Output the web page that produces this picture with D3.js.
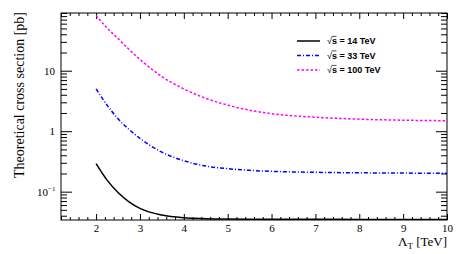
<!DOCTYPE html>
<html>
<head>
<meta charset="utf-8">
<script src="https://cdn.jsdelivr.net/npm/d3@7"></script>
<style>
  body { margin: 0; background: #fff; }
  svg { display: block; }
  .tick text { font-family: "Liberation Serif", "Times New Roman", serif; font-size: 11px; fill: #000; }
</style>
</head>
<body>
<script>
// values
var lambdaT = [2, 2.25, 2.5, 2.75, 3, 3.5, 4, 4.5, 5, 5.5, 6, 7, 8, 9, 10];
var xs14  = [0.29, 0.155, 0.097, 0.068, 0.053, 0.041, 0.037, 0.0358, 0.0353, 0.0351, 0.035, 0.0349, 0.0348, 0.0348, 0.0348];
var xs33  = [5.0, 2.7, 1.6, 1.07, 0.76, 0.45, 0.325, 0.265, 0.24, 0.225, 0.217, 0.209, 0.205, 0.203, 0.201];
var xs100 = [82, 51, 34, 22.5, 15.4, 8.0, 5.0, 3.5, 2.7, 2.22, 1.95, 1.7, 1.58, 1.52, 1.49];

var seriesNames = ["14", "33", "100"];
var xTicks = [2, 3, 4, 5, 6, 7, 8, 9, 10];
var yTicks = [0.1, 1, 10];
var yTickLabels = [["10", "\u22121"], ["1", null], ["10", null]];

var width = 473, height = 254;
var pLeft = 61, pRight = 447, pTop = 13, pBottom = 220;

var svg = d3.select("body").append("svg")
    .attr("width", width)
    .attr("height", height);

var x = d3.scaleLinear().domain([1.2, 10]).range([pLeft, pRight]);
var y = d3.scaleLog().domain([0.034, 90]).range([pBottom, pTop]);

// minor ticks
var xMinor = d3.range(1.2, 10.001, 0.2).map(function(d) { return +d.toFixed(1); })
    .filter(function(d) { return Math.abs(d - Math.round(d)) > 0.01; });
var yMinor = [];
[0.01, 0.1, 1, 10].forEach(function(dec) {
    for (var k = 2; k <= 9; k++) {
        var v = dec * k;
        if (v >= 0.034 && v <= 90) yMinor.push(v);
    }
});

function addAxis(axis, transform) {
    var g = svg.append("g").attr("transform", transform).call(axis);
    g.select(".domain").remove();
    g.selectAll(".tick line").attr("stroke", "#000").attr("stroke-width", 1);
    return g;
}

// x axes
addAxis(d3.axisBottom(x).tickValues(xTicks).tickSize(-6).tickPadding(4).tickFormat(d3.format("d")),
    "translate(0," + pBottom + ")");
addAxis(d3.axisBottom(x).tickValues(xMinor).tickSize(-3).tickFormat(""),
    "translate(0," + pBottom + ")");
addAxis(d3.axisTop(x).tickValues(xTicks).tickSize(-6).tickFormat(""),
    "translate(0," + pTop + ")");
addAxis(d3.axisTop(x).tickValues(xMinor).tickSize(-3).tickFormat(""),
    "translate(0," + pTop + ")");

// y axes
addAxis(d3.axisLeft(y).tickValues(yTicks).tickSize(-11).tickFormat(""),
    "translate(" + pLeft + ",0)");
addAxis(d3.axisLeft(y).tickValues(yMinor).tickSize(-6).tickFormat(""),
    "translate(" + pLeft + ",0)");
addAxis(d3.axisRight(y).tickValues(yTicks).tickSize(-11).tickFormat(""),
    "translate(" + pRight + ",0)");
addAxis(d3.axisRight(y).tickValues(yMinor).tickSize(-6).tickFormat(""),
    "translate(" + pRight + ",0)");

// y tick labels (with superscript)
yTicks.forEach(function(v, i) {
    var lab = yTickLabels[i];
    svg.append("text")
        .attr("x", lab[1] ? 48 : 55)
        .attr("y", y(v) + 4)
        .attr("text-anchor", "end")
        .style("font-family", "'Liberation Serif', 'Times New Roman', serif")
        .style("font-size", "11px")
        .text(lab[0]);
    if (lab[1]) {
        svg.append("text")
            .attr("x", 48)
            .attr("y", y(v) - 1)
            .style("font-family", "'Liberation Serif', 'Times New Roman', serif")
            .style("font-size", "7px")
            .text(lab[1]);
    }
});

// frame
svg.append("rect")
    .attr("x", pLeft).attr("y", pTop)
    .attr("width", pRight - pLeft).attr("height", pBottom - pTop)
    .attr("fill", "none").attr("stroke", "#000").attr("stroke-width", 1);

// curves
var series = [
    { name: seriesNames[0], values: xs14,  color: "#000000", dash: null },
    { name: seriesNames[1], values: xs33,  color: "#0000ff", dash: "4,2,1,2" },
    { name: seriesNames[2], values: xs100, color: "#ff00ff", dash: "2.5,2" }
];

var line = d3.line()
    .x(function(d) { return x(d[0]); })
    .y(function(d) { return y(d[1]); })
    .curve(d3.curveMonotoneX);

svg.append("defs").append("clipPath").attr("id", "plotclip")
    .append("rect").attr("x", pLeft).attr("y", pTop)
    .attr("width", pRight - pLeft).attr("height", pBottom - pTop);

series.forEach(function(s) {
    svg.append("path")
        .datum(lambdaT.map(function(v, i) { return [v, s.values[i]]; }))
        .attr("clip-path", "url(#plotclip)")
        .attr("fill", "none")
        .attr("stroke", s.color)
        .attr("stroke-width", 1.5)
        .attr("stroke-dasharray", s.dash)
        .attr("d", line);
});

// legend
var legY = [41, 55.5, 70];
series.forEach(function(s, i) {
    var ly = legY[i];
    svg.append("line")
        .attr("x1", 297).attr("x2", 320)
        .attr("y1", ly).attr("y2", ly)
        .attr("stroke", s.color)
        .attr("stroke-width", 1.5)
        .attr("stroke-dasharray", s.dash);
    var t = svg.append("text")
        .attr("x", 327)
        .attr("y", ly + 3.3)
        .style("font-family", "'Liberation Sans', Arial, sans-serif")
        .style("font-size", "9px")
        .style("font-weight", "bold");
    t.append("tspan").style("font-weight", "normal").text("\u221A");
    t.append("tspan").text("s = " + s.name + " TeV");
    svg.append("line")
        .attr("x1", 331.5).attr("x2", 336.5)
        .attr("y1", ly - 4.6).attr("y2", ly - 4.6)
        .attr("stroke", "#000").attr("stroke-width", 0.7);
});

// axis titles
svg.append("text")
    .attr("transform", "translate(24," + 95 + ") rotate(-90)")
    .attr("text-anchor", "middle")
    .style("font-family", "'Liberation Serif', 'Times New Roman', serif")
    .style("font-size", "14px")
    .text("Theoretical cross section [pb]");

var xt = svg.append("text")
    .attr("x", pRight)
    .attr("y", 246)
    .attr("text-anchor", "end")
    .style("font-family", "'Liberation Serif', 'Times New Roman', serif")
    .style("font-size", "13px");
xt.append("tspan").text("\u039B");
xt.append("tspan").attr("dy", 3).style("font-size", "9px").text("T");
xt.append("tspan").attr("dy", -3).text(" [TeV]");
</script>
</body>
</html>
